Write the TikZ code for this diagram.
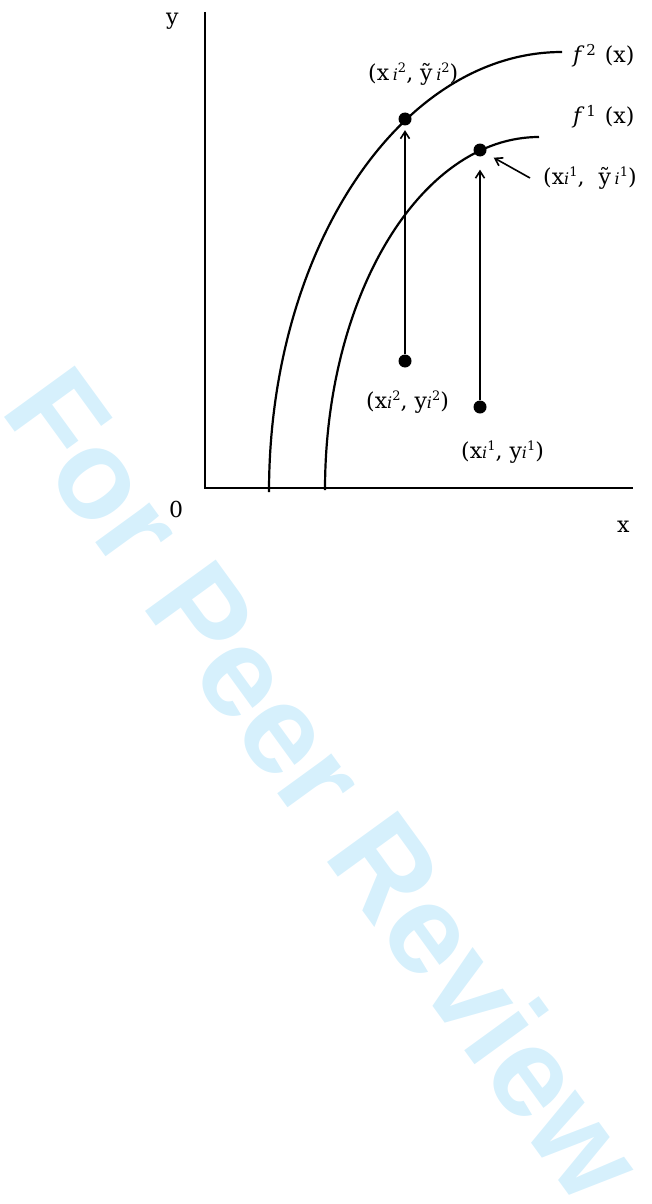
\documentclass[tikz,border=0pt]{standalone}
\usepackage{fontspec}
\newfontfamily\wmfont{Liberation Sans}
\newfontfamily\labfont{DejaVu Serif}
\usetikzlibrary{arrows.meta,positioning,calc}
\definecolor{wmblue}{RGB}{214,240,252}
\newcommand\isup[1]{{\fontsize{16}{16}\selectfont\itshape i}\raisebox{8pt}{\fontsize{13}{13}\selectfont #1}}
\newcommand\fsup[1]{{\itshape f}\hspace{5pt}\raisebox{7pt}{\fontsize{15}{15}\selectfont #1}\hspace{3pt}}

\begin{document}
\begin{tikzpicture}[>={Straight Barb[length=7pt,width=9pt]},x=1pt,y=-1pt,
  axis/.style={line width=2.4pt},
  curve/.style={line width=2.2pt},
  link/.style={->,line width=1.6pt},
  dot/.style={circle,fill,inner sep=0pt,minimum size=13pt},
  lbl/.style={font=\labfont\fontsize{22}{25}\selectfont,inner sep=0pt,anchor=base west}]
\useasboundingbox (0,0) rectangle (652,1204);
% watermark
\node[wmblue,font=\wmfont\bfseries\fontsize{127}{130}\selectfont,rotate=-54,anchor=base west,inner sep=0pt] (wm) at (-1,410) {For Peer Review};
% axes
\coordinate (o) at (205,488);
\coordinate (ytop) at (205,12);
\coordinate (xend) at (633,488);
\draw[axis] (ytop) -- (o) -- (xend);
\node[lbl] (ylab) at (166,25) {y};
\node[lbl] (zero) at (169,517) {0};
\node[lbl] (xlab) at (617,532) {x};
% frontiers
\draw[curve] (269,492) .. controls (269,250) and (400,52) .. (562,52);
\draw[curve] (325,490) .. controls (325,295) and (421,137) .. (539,137);
\node[lbl] (f2lab) at (573,63) {\fsup{2}\hspace{6pt}(x)};
\node[lbl] (f1lab) at (573,124) {\fsup{1}\hspace{6pt}(x)};
% points
\node[dot] (p2) at (405,119) {};
\node[dot] (q2) at (405,361) {};
\node[dot] (p1) at (480,150) {};
\node[dot] (q1) at (480,407) {};
\draw[link,shorten >=4.5pt] (q2) -- (p2);
\draw[link,shorten >=13pt] (q1) -- (p1);
\node[lbl] (p2lab) at (368,81) {(x\,\isup{2}, ỹ\,\isup{2})};
\node[lbl] (q2lab) at (366,408) {(x\isup{2}, y\isup{2})};
\node[lbl] (q1lab) at (461,458) {(x\isup{1}, y\isup{1})};
\node[lbl] (p1lab) at (543,184) {(x\isup{1},\ \ ỹ\,\isup{1})};
\coordinate (p1tail) at (530,178);
\draw[link,shorten >=9pt] (p1tail) -- (p1);
\end{tikzpicture}
\end{document}
